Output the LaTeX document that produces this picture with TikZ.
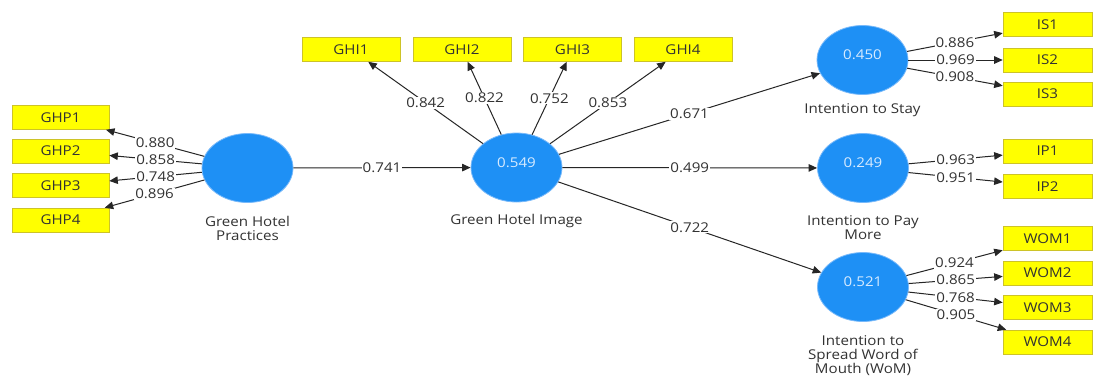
\documentclass[tikz,border=0pt]{standalone}
\usepackage{fontspec}
\setmainfont{Open Sans}[FakeStretch=1.12]
\usetikzlibrary{arrows.meta,shapes.geometric}
\definecolor{lvblue}{RGB}{30,144,245}
\definecolor{lvedge}{RGB}{120,185,250}
\definecolor{indyellow}{RGB}{255,255,0}
\definecolor{indedge}{RGB}{205,195,40}
\definecolor{txt}{RGB}{50,50,50}
\definecolor{lvtxt}{RGB}{215,235,255}
\begin{document}
\begin{tikzpicture}[x=1pt,y=-1pt,
  font=\fontsize{13.5}{14}\selectfont,
  latent/.style={ellipse, fill=lvblue, draw=lvedge, line width=0.8pt,
    minimum width=91pt, minimum height=69pt, inner sep=0pt},
  indbox/.style={rectangle, fill=indyellow, draw=indedge, line width=0.6pt,
    minimum height=24pt, inner sep=0pt, text=txt},
  lbox/.style={indbox, minimum width=97pt},
  tbox/.style={indbox, minimum width=98pt},
  rbox/.style={indbox, minimum width=89pt},
  conn/.style={draw=black!85, line width=1pt, -{Triangle[length=8.5pt,width=7.5pt]}},
  coef/.style={fill=white, inner sep=1pt, text=txt},
  vname/.style={align=center, text=txt},
  rsq/.style={text=lvtxt}
]
\useasboundingbox (0,0) rectangle (1093,376);
\fill[white] (0,0) rectangle (1093,376);

% latent variables
\node[latent] (GHP) at (247.5,168) {};
\node[latent] (GHI) at (516.5,167.5) {};
\node[latent] (IS)  at (862.5,60) {};
\node[latent] (IP)  at (863,168) {};
\node[latent] (WOM) at (863,287) {};

\node[rsq] (GHIv) at (516.5,163) {0.549};
\node[rsq] (ISv)  at (862.5,55) {0.450};
\node[rsq] (IPv)  at (863,163) {0.249};
\node[rsq] (WOMv) at (863,282) {0.521};

\node[vname] (GHPn) at (247.5,228) {Green Hotel\\Practices};
\node[vname] (GHIn) at (516.5,221) {Green Hotel Image};
\node[vname] (ISn)  at (862.5,110) {Intention to Stay};
\node[vname] (IPn)  at (863,228) {Intention to Pay\\More};
\node[vname] (WOMn) at (863,356) {Intention to\\Spread Word of\\Mouth (WoM)};

% indicators
\node[lbox] (GHP1) at (60.5,117.5) {GHP1};
\node[lbox] (GHP2) at (60.5,151) {GHP2};
\node[lbox] (GHP3) at (60.5,185.5) {GHP3};
\node[lbox] (GHP4) at (60.5,220) {GHP4};

\node[tbox] (GHI1) at (351,49.5) {GHI1};
\node[tbox] (GHI2) at (462,49.5) {GHI2};
\node[tbox] (GHI3) at (572.5,49.5) {GHI3};
\node[tbox] (GHI4) at (683,49.5) {GHI4};

\node[rbox] (IS1) at (1047.5,24.5) {IS1};
\node[rbox] (IS2) at (1047.5,60) {IS2};
\node[rbox] (IS3) at (1047.5,94) {IS3};

\node[rbox] (IP1) at (1047.5,151) {IP1};
\node[rbox] (IP2) at (1047.5,186.5) {IP2};

\node[rbox] (WOM1) at (1047.5,238.5) {WOM1};
\node[rbox] (WOM2) at (1047.5,273) {WOM2};
\node[rbox] (WOM3) at (1047.5,307.5) {WOM3};
\node[rbox] (WOM4) at (1047.5,342) {WOM4};

% outer loadings GHP
\draw[conn] (GHP) -- (GHP1) node[coef,midway] (lg1) {0.880};
\draw[conn] (GHP) -- (GHP2) node[coef,midway] (lg2) {0.858};
\draw[conn] (GHP) -- (GHP3) node[coef,midway] (lg3) {0.748};
\draw[conn] (GHP) -- (GHP4) node[coef,midway] (lg4) {0.896};

% outer loadings GHI
\draw[conn] (GHI) -- (GHI1) node[coef,midway] (li1) {0.842};
\draw[conn] (GHI) -- (GHI2) node[coef,midway] (li2) {0.822};
\draw[conn] (GHI) -- (GHI3) node[coef,midway] (li3) {0.752};
\draw[conn] (GHI) -- (GHI4) node[coef,midway] (li4) {0.853};

% outer loadings IS
\draw[conn] (IS) -- (IS1) node[coef,midway] (ls1) {0.886};
\draw[conn] (IS) -- (IS2) node[coef,midway] (ls2) {0.969};
\draw[conn] (IS) -- (IS3) node[coef,midway] (ls3) {0.908};

% outer loadings IP
\draw[conn] (IP) -- (IP1) node[coef,midway] (lp1) {0.963};
\draw[conn] (IP) -- (IP2) node[coef,midway] (lp2) {0.951};

% outer loadings WOM
\draw[conn] (WOM) -- (WOM1) node[coef,midway] (lw1) {0.924};
\draw[conn] (WOM) -- (WOM2) node[coef,midway] (lw2) {0.865};
\draw[conn] (WOM) -- (WOM3) node[coef,midway] (lw3) {0.768};
\draw[conn] (WOM) -- (WOM4) node[coef,midway] (lw4) {0.905};

% structural paths
\draw[conn] (GHP) -- (GHI) node[coef,midway] (p0) {0.741};
\draw[conn] (GHI) -- (IS)  node[coef,midway] (p1) {0.671};
\draw[conn] (GHI) -- (IP)  node[coef,midway] (p2) {0.499};
\draw[conn] (GHI) -- (WOM) node[coef,midway] (p3) {0.722};
\end{tikzpicture}
\end{document}
